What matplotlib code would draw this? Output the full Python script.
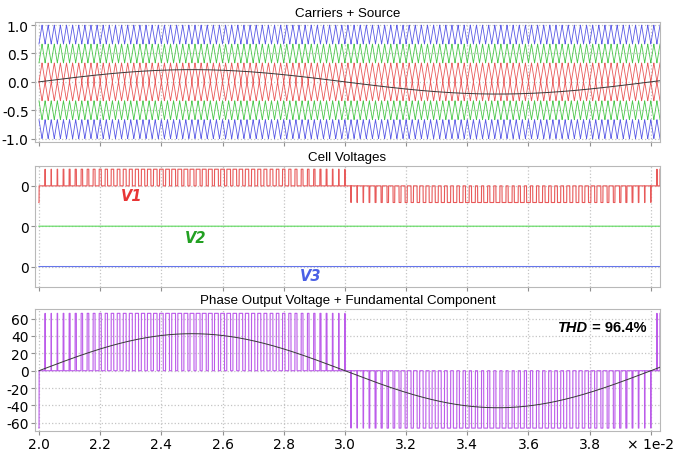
import numpy as np
import matplotlib
matplotlib.use("Agg")
import matplotlib.pyplot as plt

plt.rcParams['font.family'] = ['DejaVu Sans']
plt.rcParams['axes.unicode_minus'] = False

# values
f_source = 50.0          # Hz, one full period from 2.0e-2 to 4.0e-2
f_carrier = 5000.0       # Hz, ~100 triangles across the window
src_amp = 0.215          # source amplitude (top panel)
n_cells = 3              # 6 phase-disposed carriers
v_dc = 66.0              # pulse height in output
fund_amp = 42.6          # fundamental amplitude
delay = 0.00015          # s, visible lag of the switching vs. source
t_start, t_end = 0.0200, 0.0403
thd_text = "96.4%"

carrier_colors = ['#ea5a5a', '#4cc84c', '#5a5ae6']
cell_names = ['V1', 'V2', 'V3']
cell_colors = ['#e85a5a', '#5cda5c', '#6676ea']
label_colors = ['#e83535', '#22a022', '#4a60e6']
cell_offsets = [320, 160, 0]

t = np.arange(t_start, t_end, 1e-6)
x = t / 1e-2

phase = ((t - t_start) * f_carrier) % 1.0
tri = 1 - 2 * np.abs(phase - 0.5)  # 0..1 triangle, minima at period edges
source = src_amp * np.sin(2 * np.pi * f_source * (t - t_start))
ref = src_amp * np.sin(2 * np.pi * f_source * (t - t_start - delay))

band = 1.0 / n_cells
v1 = np.where((ref > 0) & (ref > tri * band), v_dc, 0.0)
v1 = np.where((ref < 0) & (ref < -tri * band), -v_dc, v1)
v1[0] = -v_dc     # start-up spike seen at 2.0
v1[-1] = v_dc     # spike at the right edge
cells = [v1, np.zeros_like(t), np.zeros_like(t)]
out = cells[0] + cells[1] + cells[2]
fund = fund_amp * np.sin(2 * np.pi * f_source * (t - t_start))

fig = plt.figure(figsize=(6.73, 4.60), dpi=100)
L, W = 35 / 673, 625 / 673
ax1 = fig.add_axes([L, 1 - 143 / 460, W, 120.3 / 460])
ax2 = fig.add_axes([L, 1 - 287.7 / 460, W, 121 / 460])
ax3 = fig.add_axes([L, 1 - 431.7 / 460, W, 121.7 / 460])

title_font = dict(fontsize=9.6, family=['Liberation Sans', 'DejaVu Sans'])

xt = np.arange(2.0, 4.01, 0.2)
for ax in (ax1, ax2, ax3):
    ax.set_xlim(1.987, 4.03)
    ax.set_xticks(xt)
    ax.grid(True, color='#c4c4c4', linestyle=':', linewidth=0.9)
    ax.set_axisbelow(True)
    for s in ax.spines.values():
        s.set_color('#b8b8b8')
    ax.tick_params(axis='both', colors='#909090', labelcolor='black',
                   labelsize=10, length=3, width=0.8, pad=1.5)

# top: carriers + source
for k in range(n_cells):
    lo = k * band
    ax1.plot(x, lo + tri * band, color=carrier_colors[k], lw=0.6)
    ax1.plot(x, -lo - tri * band, color=carrier_colors[k], lw=0.6)
ax1.plot(x, source, color='#383838', lw=0.7)
ax1.set_ylim(-1.06, 1.06)
ax1.set_yticks([-1.0, -0.5, 0.0, 0.5, 1.0])
ax1.set_yticklabels(['-1.0', '-0.5', '0.0', '0.5', '1.0'])
ax1.tick_params(axis='x', labelbottom=False)
ax1.set_title('Carriers + Source', pad=4, **title_font)

# middle: cell voltages
for v, off, c in zip(cells, cell_offsets, cell_colors):
    ax2.plot(x, v + off, color=c, lw=0.8)
ax2.set_ylim(-80, 400)
ax2.set_yticks(cell_offsets)
ax2.set_yticklabels(['0', '0', '0'])
ax2.tick_params(axis='x', labelbottom=False)
ax2.set_title('Cell Voltages', pad=4, **title_font)
label_pos = [(0.155, 0.752), (0.257, 0.408), (0.441, 0.091)]
for name, (px, py), c in zip(cell_names, label_pos, label_colors):
    ax2.text(px, py, name, transform=ax2.transAxes, color=c, fontsize=10.5,
             fontweight='bold', fontstyle='italic', ha='center', va='center')

# bottom: output + fundamental
ax3.plot(x, out, color='#bc5cea', lw=0.8)
ax3.plot(x, fund, color='#383838', lw=0.7)
ax3.set_ylim(-69, 71)
ax3.set_yticks(np.arange(-60, 61, 20))
ax3.set_xticklabels(['%.1f' % v for v in xt[:-1]] + ['\u00d7 1e-2'])
ax3.set_title('Phase Output Voltage + Fundamental Component', pad=4, **title_font)
t1 = ax3.text(0.979, 0.852, ' = ' + thd_text, transform=ax3.transAxes,
              fontsize=10.5, fontweight='bold', ha='right', va='center',
              family=['Liberation Sans', 'DejaVu Sans'])
ax3.annotate('THD', xy=(0, 0.5), xycoords=t1, fontsize=10.5, fontweight='bold',
             fontstyle='italic', ha='right', va='center',
             family=['Liberation Sans', 'DejaVu Sans'])

fig.savefig('out.png', dpi=100)
